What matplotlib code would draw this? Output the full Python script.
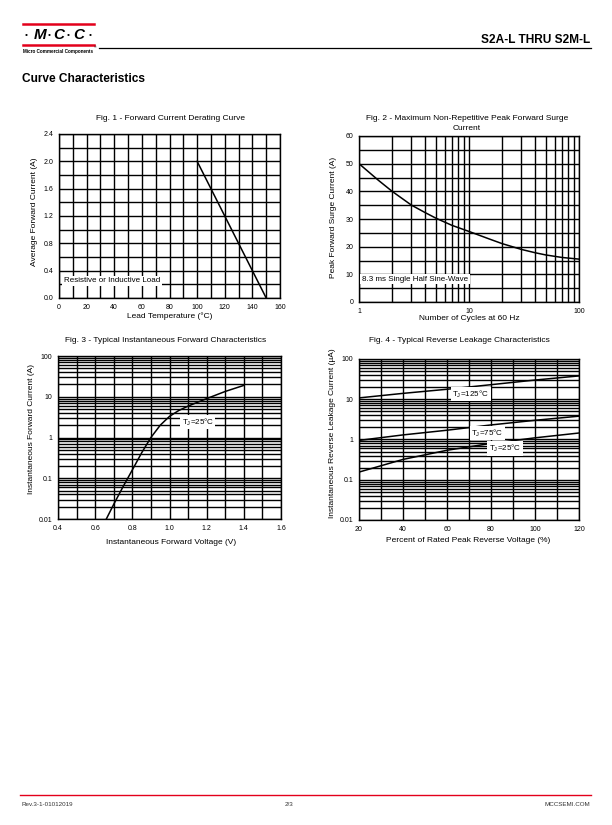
import matplotlib
matplotlib.use("Agg")
import matplotlib.pyplot as plt
from matplotlib.lines import Line2D

plt.rcParams['font.family'] = ['Liberation Sans', 'DejaVu Sans']

# Fig. 1 - derating curve
lead_temp = [100, 150]
avg_current = [2.0, 0.0]

# Fig. 2 - surge current
cycles = [1, 1.5, 2, 3, 4, 5, 7, 10, 15, 20, 30, 40, 50, 70, 100]
surge_current = [50, 44.0, 40, 35.0, 32.3, 30.3, 27.7, 25.5, 22.9, 21.1, 19.0, 17.8, 17.0, 16.1, 15.5]

# Fig. 3 - forward characteristics
fwd_voltage = [0.66, 0.70, 0.75, 0.80, 0.85, 0.90, 0.95, 1.00, 1.05, 1.10, 1.20, 1.30, 1.40]
fwd_current = [0.01, 0.023, 0.062, 0.16, 0.42, 1.0, 2.0, 3.3, 4.6, 5.9, 9.0, 13.5, 19.0]

# Fig. 4 - reverse leakage
pct_voltage = [20, 40, 60, 80, 100, 120]
leak_125 = [10.8, 14.0, 17.7, 23.0, 30.0, 38.0]
leak_75 = [0.95, 1.3, 1.7, 2.3, 3.0, 3.8]
leak_25 = [0.155, 0.32, 0.54, 0.8, 1.1, 1.45]

decade_ticks = [0.01, 0.1, 1, 10, 100]
decade_labels = ['0.01', '0.1', '1', '10', '100']

W, H = 612, 825
fig = plt.figure(figsize=(W / 100, H / 100), dpi=100)


def rect(l, t, r, b):
    return [l / W, 1 - b / H, (r - l) / W, (b - t) / H]


def txt(x, y, s, **kw):
    kw.setdefault('va', 'center')
    fig.text(x / W, 1 - y / H, s, **kw)


def hline(x0, x1, y, color, lw):
    fig.add_artist(Line2D([x0 / W, x1 / W], [1 - y / H, 1 - y / H],
                          transform=fig.transFigure, color=color, lw=lw))


def style(ax):
    ax.grid(which='both', color='black', lw=1.0)
    ax.set_axisbelow(True)
    for s in ax.spines.values():
        s.set_linewidth(1.0)
    ax.tick_params(which='both', length=0, labelsize=5, pad=4)


def log_minor(lo, hi):
    out = []
    d = lo
    while d < hi:
        out += [d * k for k in range(2, 10)]
        d *= 10
    return out


lab = dict(fontsize=6)
boxkw = dict(facecolor='white', edgecolor='none', pad=1.2)

# header
hline(23, 94, 24, '#e3001b', 1.8)
hline(23, 94, 44.5, '#e3001b', 1.8)
for x in [26, 49.5, 68, 90]:
    txt(x, 35, '•', fontsize=6, ha='center', color='black')
for x, s in [(40, 'M'), (59, 'C'), (78.5, 'C')]:
    txt(x, 35, s, fontsize=11, ha='center', fontweight='bold', style='italic')
txt(58.5, 51, 'Micro Commercial Components', fontsize=3.3, ha='center', fontweight='bold')
txt(95.5, 47.5, '®', fontsize=2.5, ha='center')
hline(99, 591, 48.3, 'black', 0.9)
txt(590, 40, 'S2A-L THRU S2M-L', fontsize=8.6, ha='right', fontweight='bold')
txt(22, 79, 'Curve Characteristics', fontsize=8.6, ha='left', fontweight='bold')

# Fig. 1
ax1 = fig.add_axes(rect(59, 134, 280, 298))
ax1.plot(lead_temp, avg_current, color='black', lw=1.1)
ax1.set_xlim(0, 160)
ax1.set_ylim(0, 2.4)
ax1.set_xticks(range(0, 161, 20))
ax1.set_xticks(range(0, 161, 10), minor=True)
ax1.set_yticks([0, 0.4, 0.8, 1.2, 1.6, 2.0, 2.4])
ax1.set_yticklabels(['0.0', '0.4', '0.8', '1.2', '1.6', '2.0', '2.4'])
ax1.set_yticks([i * 0.2 for i in range(13)], minor=True)
style(ax1)
ax1.text(3.5, 0.25, 'Resistive or Inductive Load', fontsize=5.8, va='center', bbox=boxkw)
txt(170, 118, 'Fig. 1 - Forward Current Derating Curve', ha='center', **lab)
txt(170, 316, 'Lead Temperature (°C)', ha='center', **lab)
txt(35, 212, 'Average Forward Current (A)', ha='center', rotation=90, **lab)

# Fig. 2
ax2 = fig.add_axes(rect(359, 136, 579, 302))
ax2.plot(cycles, surge_current, color='black', lw=1.1)
ax2.set_xscale('log')
ax2.set_xlim(1, 100)
ax2.set_ylim(0, 60)
ax2.set_xticks([1, 10, 100])
ax2.set_xticklabels(['1', '10', '100'])
ax2.set_xticks(log_minor(1, 100), minor=True)
ax2.xaxis.set_minor_formatter(plt.NullFormatter())
ax2.set_yticks(range(0, 61, 10))
ax2.set_yticks(range(0, 61, 5), minor=True)
style(ax2)
ax2.text(1.06, 8.3, '8.3 ms Single Half Sine-Wave', fontsize=5.8, va='center', bbox=boxkw)
txt(467, 118, 'Fig. 2 - Maximum Non-Repetitive Peak Forward Surge', ha='center', **lab)
txt(467, 128, 'Current', ha='center', **lab)
txt(469, 318, 'Number of Cycles at 60 Hz', ha='center', **lab)
txt(334, 217, 'Peak Forward Surge Current (A)', ha='center', rotation=90, **lab)

# Fig. 3
ax3 = fig.add_axes(rect(58, 356, 281, 519))
ax3.plot(fwd_voltage, fwd_current, color='black', lw=1.1)
ax3.set_yscale('log')
ax3.set_xlim(0.4, 1.6)
ax3.set_ylim(0.01, 100)
ax3.set_xticks([0.4, 0.6, 0.8, 1.0, 1.2, 1.4, 1.6])
ax3.set_xticklabels(['0.4', '0.6', '0.8', '1.0', '1.2', '1.4', '1.6'])
ax3.set_xticks([0.4 + i * 0.1 for i in range(13)], minor=True)
ax3.set_yticks(decade_ticks)
ax3.set_yticklabels(decade_labels)
ax3.set_yticks(log_minor(0.01, 100), minor=True)
ax3.yaxis.set_minor_formatter(plt.NullFormatter())
style(ax3)
ax3.text(1.065, 2.4, r'T$_\mathregular{J}$=25°C', fontsize=5.8, va='center', bbox=boxkw)
txt(166, 340, 'Fig. 3 - Typical Instantaneous Forward Characteristics', ha='center', **lab)
txt(171, 543, 'Instantaneous Forward Voltage (V)', ha='center', **lab)
txt(32, 429, 'Instantaneous Forward Current (A)', ha='center', rotation=90, **lab)

# Fig. 4
ax4 = fig.add_axes(rect(359, 359, 579, 520))
for series in [leak_125, leak_75, leak_25]:
    ax4.plot(pct_voltage, series, color='black', lw=1.1)
ax4.set_yscale('log')
ax4.set_xlim(20, 120)
ax4.set_ylim(0.01, 100)
ax4.set_xticks(range(20, 121, 20))
ax4.set_xticks(range(20, 121, 10), minor=True)
ax4.set_yticks(decade_ticks)
ax4.set_yticklabels(decade_labels)
ax4.set_yticks(log_minor(0.01, 100), minor=True)
ax4.yaxis.set_minor_formatter(plt.NullFormatter())
style(ax4)
ax4.text(62.5, 13.5, r'T$_\mathregular{J}$=125°C', fontsize=5.8, va='center', bbox=boxkw)
ax4.text(71, 1.45, r'T$_\mathregular{J}$=75°C', fontsize=5.8, va='center', bbox=boxkw)
ax4.text(79, 0.6, r'T$_\mathregular{J}$=25°C', fontsize=5.8, va='center', bbox=boxkw)
txt(459, 340, 'Fig. 4 - Typical Reverse Leakage Characteristics', ha='center', **lab)
txt(468, 541, 'Percent of Rated Peak Reverse Voltage (%)', ha='center', **lab)
txt(333, 433, 'Instantaneous Reverse Leakage Current (µA)', ha='center', rotation=90, **lab)

# footer
hline(20, 591, 795, '#e3001b', 1.0)
txt(22, 804, 'Rev.3-1-01012019', fontsize=4.5, ha='left', color='#333333')
txt(289, 804, '2/3', fontsize=4.5, ha='center', color='#333333')
txt(590, 804, 'MCCSEMI.COM', fontsize=4.5, ha='right', color='#333333')

fig.savefig('out.png', dpi=100)
